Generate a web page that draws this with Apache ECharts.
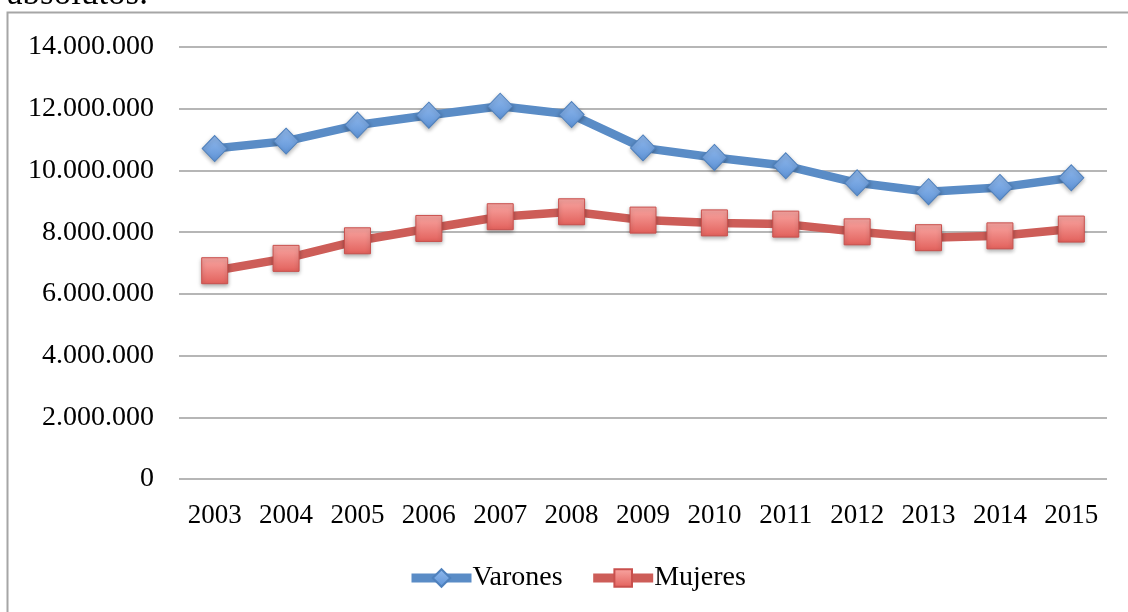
<!DOCTYPE html>
<html>
<head>
<meta charset="utf-8">
<script src="https://cdn.jsdelivr.net/npm/echarts@6/dist/echarts.min.js"></script>
<style>
  html, body { margin: 0; padding: 0; background: #fff; }
  #chart { width: 1128px; height: 612px; }
</style>
</head>
<body>
<div id="chart"></div>
<script>
const years = ['2003', '2004', '2005', '2006', '2007', '2008', '2009', '2010', '2011', '2012', '2013', '2014', '2015'];
const varones = [10710000, 10950000, 11470000, 11790000, 12080000, 11810000, 10730000, 10420000, 10150000, 9600000, 9310000, 9450000, 9760000];
const mujeres = [6750000, 7150000, 7720000, 8120000, 8500000, 8660000, 8390000, 8300000, 8260000, 8010000, 7820000, 7880000, 8100000];

const font = '"Liberation Serif", "DejaVu Serif", serif';

const grad = (top, bottom) => ({
  type: 'linear', x: 0, y: 0, x2: 0, y2: 1,
  colorStops: [{ offset: 0, color: top }, { offset: 1, color: bottom }],
});

const chart = echarts.init(document.getElementById('chart'));
chart.setOption({
  animation: false,
  textStyle: { fontFamily: font },
  graphic: [
    {
      type: 'rect',
      shape: { x: 7.5, y: 12.5, width: 1140, height: 700 },
      style: { fill: 'none', stroke: '#a6a6a6', lineWidth: 2 },
    },
    {
      type: 'text',
      left: 7,
      top: -23,
      style: { text: 'absolutos.', fontFamily: font, fontSize: 35, fill: '#000' },
    },
  ],
  grid: { left: 179, right: 21, top: 47, bottom: 133 },
  legend: {
    bottom: 15,
    left: 402,
    itemWidth: 60,
    itemHeight: 22,
    itemGap: 26,
    lineStyle: { width: 9 },
    textStyle: { fontFamily: font, fontSize: 28, color: '#000', padding: [0, 0, 0, -4] },
    data: ['Varones', 'Mujeres'],
  },
  xAxis: {
    type: 'category',
    data: years,
    axisLine: { show: false },
    axisTick: { show: false },
    axisLabel: { fontFamily: font, fontSize: 27, color: '#000', margin: 23, interval: 0 },
  },
  yAxis: {
    type: 'value',
    min: 0,
    max: 14000000,
    interval: 2000000,
    axisLine: { show: false },
    axisTick: { show: false },
    splitLine: { lineStyle: { color: '#9e9e9e', width: 1.5 } },
    axisLabel: {
      fontFamily: font,
      fontSize: 28,
      color: '#000',
      margin: 25,
      formatter: (v) => String(v).replace(/\B(?=(\d{3})+(?!\d))/g, '.'),
    },
  },
  series: [
    {
      name: 'Varones',
      type: 'line',
      data: varones,
      symbol: 'diamond',
      symbolSize: [25, 26],
      lineStyle: { color: '#5a8cc6', width: 8.5 },
      itemStyle: {
        color: grad('#93bbee', '#5d92d6'),
        borderColor: '#4f81bd',
        borderWidth: 1,
        shadowBlur: 4,
        shadowOffsetY: 2,
        shadowColor: 'rgba(0,0,0,0.3)',
      },
    },
    {
      name: 'Mujeres',
      type: 'line',
      data: mujeres,
      symbol: 'rect',
      symbolSize: 26,
      lineStyle: { color: '#cd5d58', width: 8.5 },
      itemStyle: {
        color: grad('#f9a7a3', '#e2605b'),
        borderColor: '#c9504d',
        borderWidth: 1,
        shadowBlur: 4,
        shadowOffsetY: 2,
        shadowColor: 'rgba(0,0,0,0.3)',
      },
    },
  ],
});
</script>
</body>
</html>
